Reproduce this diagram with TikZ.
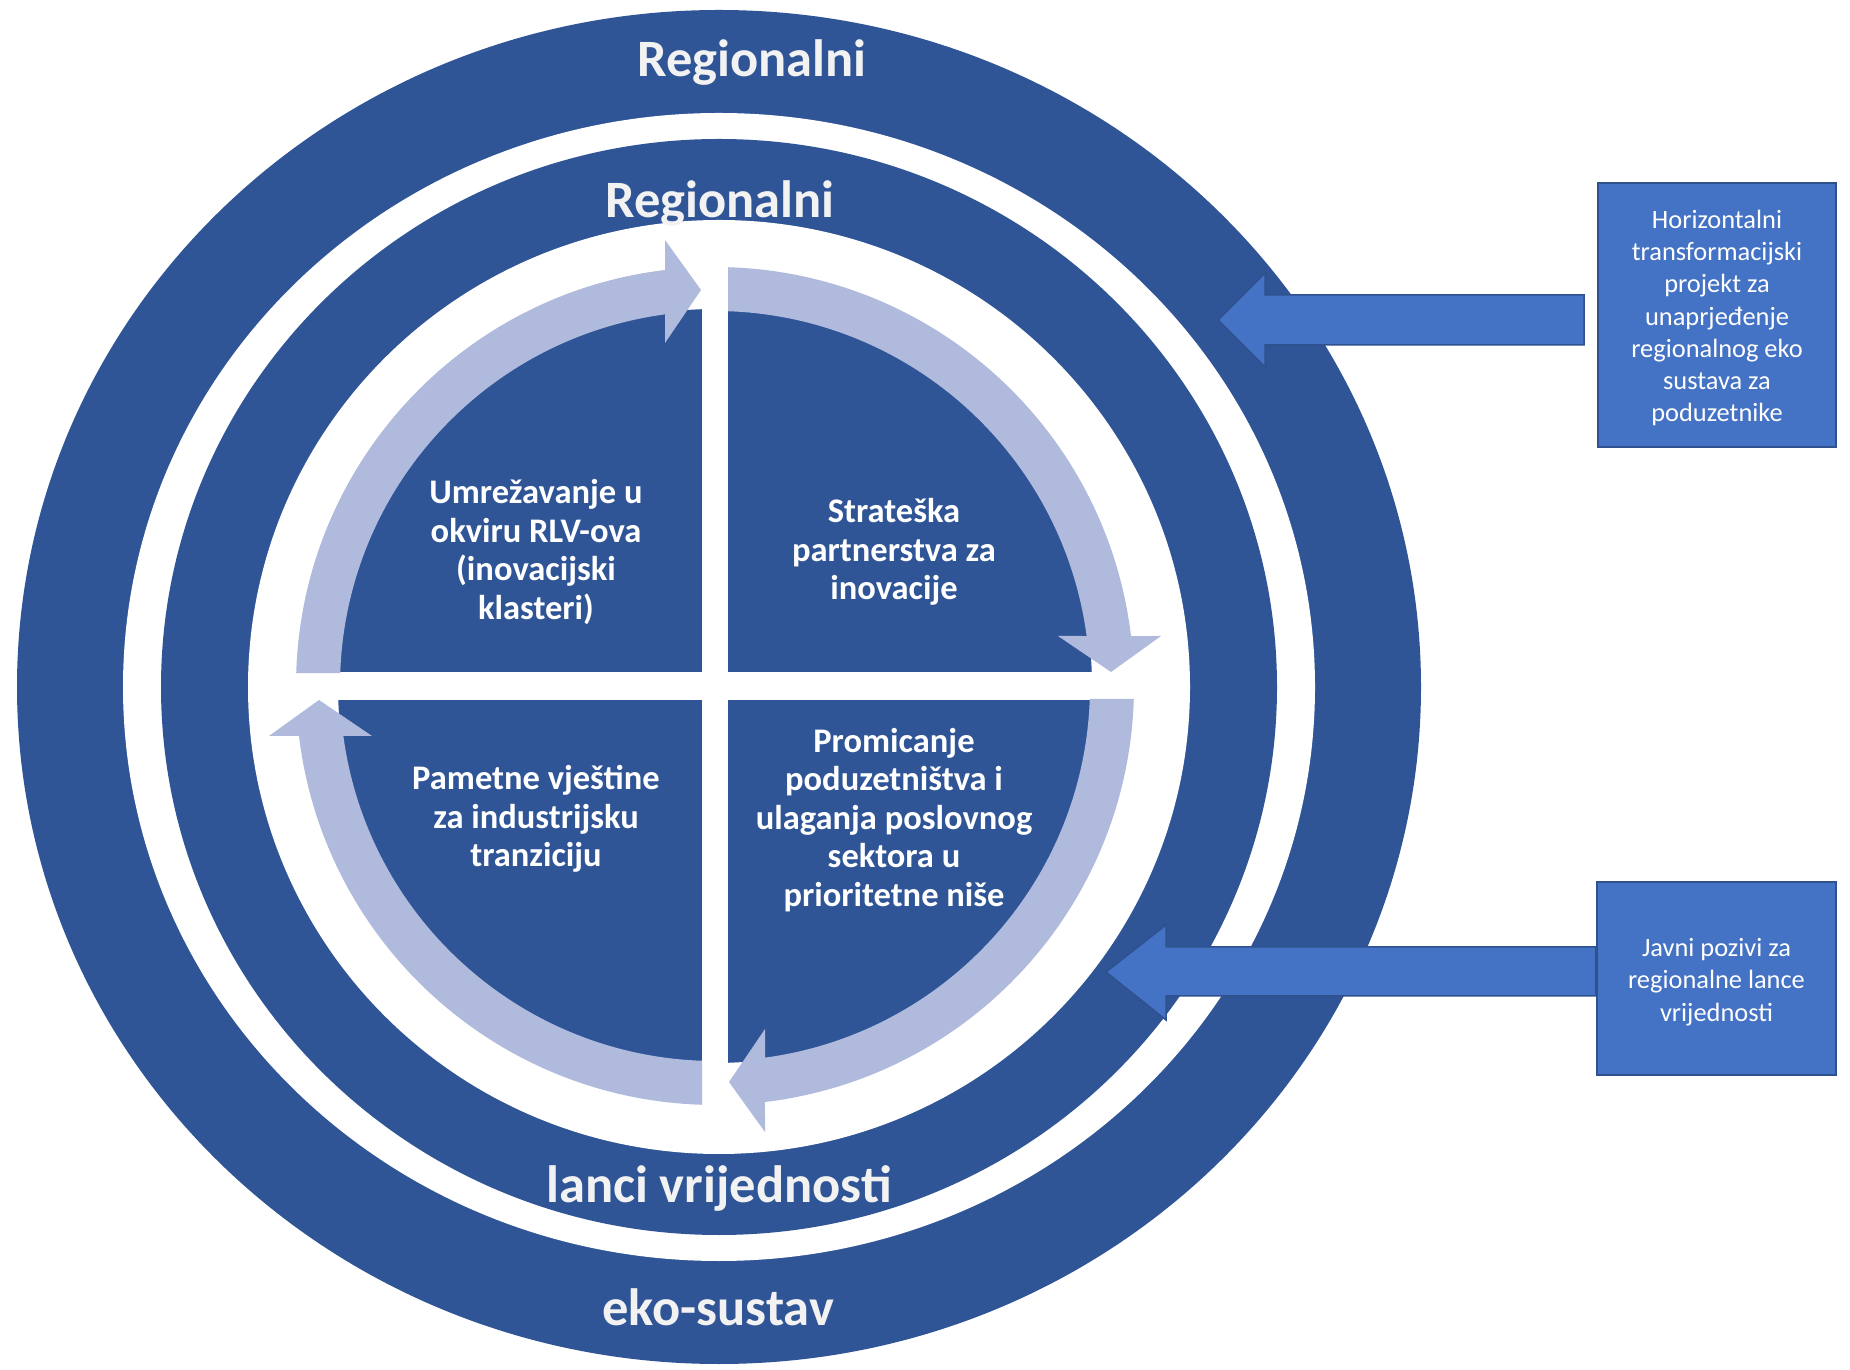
\documentclass[tikz,border=0pt]{standalone}
\usepackage{fontspec}
\setmainfont{Carlito}
\definecolor{ringblue}{HTML}{2F5597}
\definecolor{arrowlight}{RGB}{175,186,221}
\definecolor{boxblue}{HTML}{4472C4}
\definecolor{boxedge}{HTML}{2F528F}
\definecolor{labelgray}{HTML}{F2F2F2}
\begin{document}
\begin{tikzpicture}[x=1pt,y=1pt,
  ringlabel/.style={text=labelgray, font=\fontsize{52.5}{63}\selectfont\bfseries, inner sep=0pt, anchor=base},
  quadtext/.style={text=white, font=\fontsize{34.5}{38.5}\selectfont\bfseries, align=center, inner sep=0pt},
  sidebox/.style={fill=boxblue, draw=boxedge, line width=2.5pt},
  boxtext/.style={text=white, font=\fontsize{26.4}{32.2}\selectfont, align=center, inner sep=0pt},
  bigarrow/.style={fill=boxblue, draw=boxedge, line width=1.5pt, line join=miter},
  cyclearrow/.style={fill=arrowlight}
]
\useasboundingbox (0,0) rectangle (1850,1369);
\fill[white] (0,0) rectangle (1850,1369);

% concentric rings
\fill[ringblue] (719,682) ellipse[x radius=702, y radius=677];
\fill[white]    (719,682) ellipse[x radius=596, y radius=574];
\fill[ringblue] (719,682) ellipse[x radius=558, y radius=548];
\fill[white]    (719,682) ellipse[x radius=471, y radius=467];

% inner quadrants
\fill[ringblue] (715,683) circle[radius=377];
\fill[white] (702,300) rectangle (728,1066);
\fill[white] (330,669) rectangle (1100,697);

% cycle arrows
\foreach \r in {0,90,180,270}{
  \begin{scope}[shift={(715,683)}, rotate=\r]
    \fill[cyclearrow] (88.222:419) arc[start angle=88.222, end angle=6.853, radius=419]
      -- (446,50) -- (396,14) -- (343,50)
      -- (7.662:375) arc[start angle=7.662, end angle=88.013, radius=375] -- cycle;
  \end{scope}
}

% ring labels
\node[ringlabel] (r1) at (752,1292) {Regionalni};
\node[ringlabel] (r2) at (720,1151) {Regionalni};
\node[ringlabel] (r3) at (719,167) {lanci vrijednosti};
\node[ringlabel] (r4) at (718,44) {eko-sustav};

% quadrant texts
\node[quadtext] (q1) at (536,817) {Umrežavanje u\\okviru RLV-ova\\(inovacijski\\klasteri)};
\node[quadtext] (q2) at (894,817) {Strateška\\partnerstva za\\inovacije};
\node[quadtext] (q3) at (536,550) {Pametne vještine\\za industrijsku\\tranziciju};
\node[quadtext] (q4) at (894,549) {Promicanje\\poduzetništva i\\ulaganja poslovnog\\sektora u\\prioritetne niše};

% side boxes
\node[sidebox, minimum width=238pt, minimum height=264pt] (box1) at (1717,1054) {};
\node[boxtext] (box1t) at ([yshift=-3pt]box1.center)
  {Horizontalni\\transformacijski\\projekt za\\unaprjeđenje\\regionalnog eko\\sustava za\\poduzetnike};
\node[sidebox, minimum width=239pt, minimum height=193pt] (box2) at (1716.5,390.5) {};
\node[boxtext] (box2t) at ([yshift=-3.5pt]box2.center)
  {Javni pozivi za\\regionalne lance\\vrijednosti};

% big arrows
\coordinate (t1) at (1218,1049);
\coordinate (t2) at (1106,397);
\draw[bigarrow] (1584,1074) -- (1265,1074) -- (1265,1096) -- (t1) -- (1265,1002) -- (1265,1024) -- (1584,1024) -- cycle;
\draw[bigarrow] (box2.west |- 0,422) -- (1166,422) -- (1166,444) -- (t2) -- (1166,349) -- (1166,373) -- (box2.west |- 0,373) -- cycle;
\end{tikzpicture}
\end{document}
